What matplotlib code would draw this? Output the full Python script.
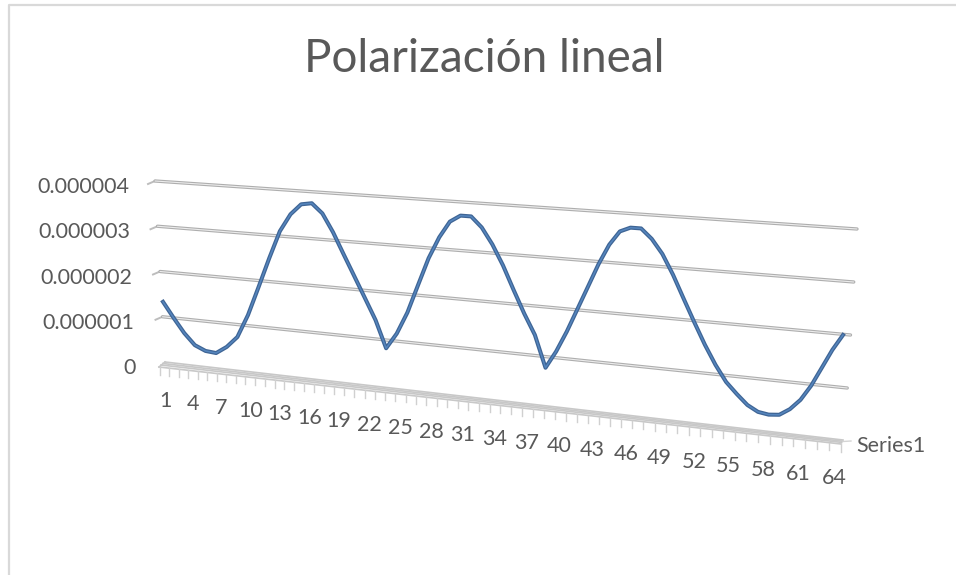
import numpy as np
import matplotlib
matplotlib.use('Agg')
import matplotlib.pyplot as plt

plt.rcParams['font.family'] = ['Lato', 'DejaVu Sans']

title = 'Polarización lineal'
series_name = 'Series1'
grey_text = '#595959'

# valores, en unidades de 1e-6
values = [1.33, 1.00, 0.69, 0.45, 0.35, 0.33, 0.49, 0.73, 1.23, 1.86,
          2.50, 3.10, 3.48, 3.71, 3.75, 3.55, 3.17, 2.72, 2.28, 1.84,
          1.40, 0.83, 1.16, 1.62, 2.21, 2.79, 3.24, 3.58, 3.72, 3.72,
          3.51, 3.18, 2.77, 2.29, 1.83, 1.42, 0.78, 1.13, 1.55, 2.02,
          2.49, 2.96, 3.36, 3.64, 3.73, 3.73, 3.54, 3.26, 2.87, 2.42,
          1.98, 1.56, 1.19, 0.88, 0.67, 0.48, 0.37, 0.34, 0.36, 0.49,
          0.69, 0.98, 1.34, 1.70, 2.00]
value_ticks = [0, 1, 2, 3, 4]
value_labels = ['0', '0.000001', '0.000002', '0.000003', '0.000004']
category_ticks = list(range(1, 65, 3))


# proyeccion simple del grafico 3D de Excel a pixeles
def wall_y(t, v):
    base = 362 + 79 * t
    spacing = 45.25 + 7.75 * t
    return base - v * spacing


def floor_x(t):
    return 160 + 681 * (0.874 * t + 0.126 * t ** 2)


fig = plt.figure(figsize=(9.56, 5.75), dpi=100)
ax = fig.add_axes([0, 0, 1, 1])
ax.set_xlim(0, 956)
ax.set_ylim(575, 0)
ax.axis('off')

# marco del grafico
ax.plot([9, 9, 956], [575, 5, 5], color='#d9d9d9', lw=1.6, solid_capstyle='butt')

ax.text(484, 59, title, color=grey_text, fontsize=33, ha='center', va='center')

# lineas de la pared
for v, label in zip(value_ticks, value_labels):
    xl = 165 - 2.5 * v
    xr = 844 + 3.25 * v
    t = np.array([0, 1])
    y = wall_y(t, v)
    if v > 0:
        ax.plot([xl - 7, xl], [y[0] + 3, y[0]], color='#bdbdbd', lw=1.4)
        ax.plot([xl, xr], y, color='#aeaeae', lw=2.4, solid_capstyle='round')
        ax.plot([xl, xr], y, color='#ececec', lw=0.8, solid_capstyle='round')
    ax.text(136 - 1.75 * v, y[0] + 6, label, color=grey_text,
            fontsize=15.5, ha='right', va='center')

# piso
for dx, dy in [(0, 0), (-2, 1.5), (-4, 3), (-6, 5)]:
    ax.plot([165 + dx, 843 + dx / 3], [362 + dy, 440 + dy * 0.8], color='#c8c8c8', lw=1.2)
ax.plot([165, 159], [362, 367], color='#c8c8c8', lw=1.2)
ax.plot([843, 851], [441.5, 441], color='#d4d4d4', lw=1.0)

idx = np.arange(1, 66)
tick_t = (idx - 1) / 64
tick_x = floor_x(tick_t)
tick_top = 367 + 0.1135 * (tick_x - 160)
for x, y0 in zip(tick_x, tick_top):
    ax.plot([x, x], [y0, y0 + 7.5], color='#d0d0d0', lw=1.0)

for c in category_ticks:
    x = floor_x((c - 1) / 64) + 5
    ax.text(x, 401 + 0.115 * (x - 165), str(c), color=grey_text, fontsize=15.5,
            ha='center', va='center')

ax.text(856, 446, series_name, color=grey_text, fontsize=15.5, ha='left', va='center')

# serie
series_t = (idx - 1) / 64
series_x = 163 + 680 * series_t
series_y = wall_y(series_t, np.array(values))
ax.plot(series_x, series_y, color='#3f6595', lw=2.9, solid_joinstyle='round')
ax.plot(series_x, series_y, color='#5585bd', lw=1.1, solid_joinstyle='round')

fig.savefig('out.png', dpi=100)
